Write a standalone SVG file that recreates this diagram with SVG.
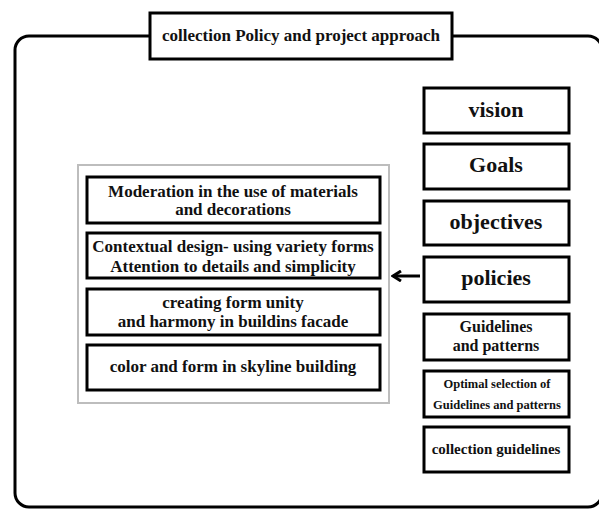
<svg xmlns="http://www.w3.org/2000/svg" width="599" height="510" viewBox="0 0 599 510">
<style>
.box{fill:#fff;stroke:#000;stroke-width:3}
.t{font-family:"Liberation Serif","Times New Roman",serif;font-weight:bold;fill:#111;text-anchor:middle}
.big{font-size:22px}
.mid{font-size:17px}
.sm{font-size:12.5px}
</style>
<defs>
<marker id="ah" viewBox="0 0 12 12" refX="10" refY="6" markerWidth="12" markerHeight="12" orient="auto" markerUnits="userSpaceOnUse">
<path d="M2 1 L10 6 L2 11" fill="none" stroke="#000" stroke-width="3"/>
</marker>
</defs>
<rect width="599" height="510" fill="#fff"/>
<g id="frame">
<rect x="15" y="36" width="587" height="471" rx="14" fill="none" stroke="#000" stroke-width="3"/>
</g>
<g id="title">
<rect class="box" x="150" y="13" width="302" height="46"/>
<text class="t mid" x="301" y="41">collection Policy and project approach</text>
</g>
<g id="group">
<rect x="78" y="165" width="311" height="238" fill="#fff" stroke="#bdbdbd" stroke-width="2"/>
</g>
<g id="n1">
<rect class="box" x="87" y="177" width="293" height="46"/>
<text class="t mid" x="233" y="197">Moderation in the use of materials</text>
<text class="t mid" x="233" y="215">and decorations</text>
</g>
<g id="n2">
<rect class="box" x="87" y="233" width="293" height="45"/>
<text class="t mid" x="233" y="252">Contextual design- using variety forms</text>
<text class="t mid" x="233" y="272">Attention to details and simplicity</text>
</g>
<g id="n3">
<rect class="box" x="87" y="289" width="293" height="46"/>
<text class="t mid" x="233" y="308">creating form unity</text>
<text class="t mid" x="233" y="327">and harmony in buildins facade</text>
</g>
<g id="n4">
<rect class="box" x="87" y="345" width="293" height="45"/>
<text class="t mid" x="233" y="372">color and form in skyline building</text>
</g>
<g id="vision">
<rect class="box" x="424" y="88" width="145" height="45"/>
<text class="t big" x="496" y="117">vision</text>
</g>
<g id="goals">
<rect class="box" x="424" y="144" width="145" height="45"/>
<text class="t big" x="496" y="172">Goals</text>
</g>
<g id="objectives">
<rect class="box" x="424" y="201" width="145" height="44"/>
<text class="t big" x="496" y="229">objectives</text>
</g>
<g id="policies">
<rect class="box" x="424" y="257" width="145" height="45"/>
<text class="t big" x="496" y="285">policies</text>
</g>
<g id="guidelines">
<rect class="box" x="424" y="314" width="145" height="46"/>
<text class="t" style="font-size:16px" x="496" y="332">Guidelines</text>
<text class="t" style="font-size:16px" x="496" y="351">and patterns</text>
</g>
<g id="optimal">
<rect class="box" x="424" y="371" width="145" height="46"/>
<text class="t sm" x="497" y="388">Optimal selection of</text>
<text class="t sm" x="497" y="409">Guidelines and patterns</text>
</g>
<g id="collection">
<rect class="box" x="424" y="427" width="145" height="45"/>
<text class="t" style="font-size:15px" x="496" y="454">collection guidelines</text>
</g>
<g id="connectors">
<path d="M420 276 H393" fill="none" stroke="#000" stroke-width="3" marker-end="url(#ah)"/>
</g>
</svg>
